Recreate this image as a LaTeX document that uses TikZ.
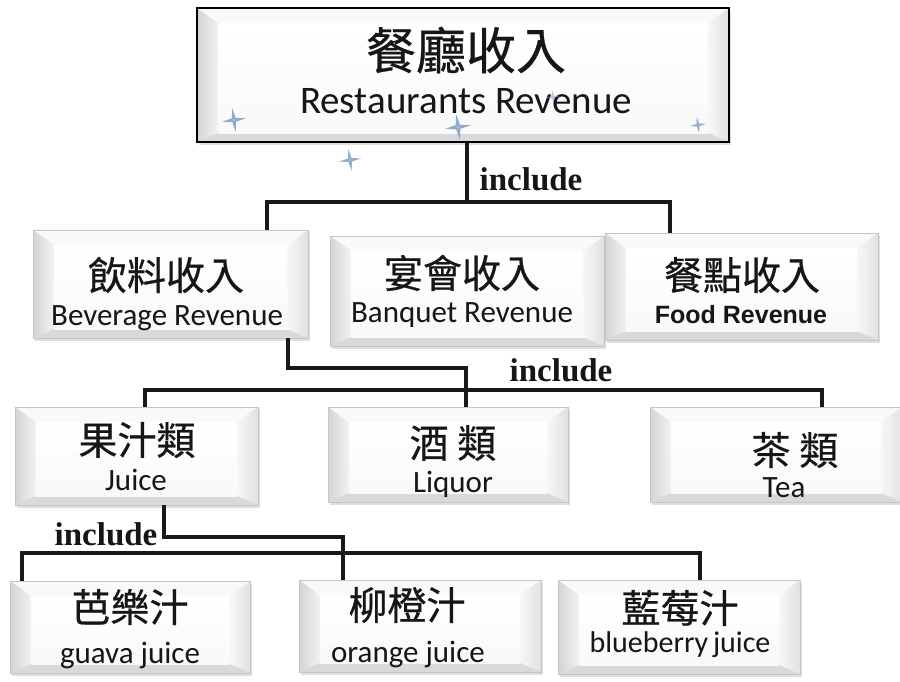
\documentclass[tikz,border=0pt]{standalone}
\usepackage{fontspec}
\newfontfamily\cjk[FakeBold=0.6]{Noto Sans CJK TC}
\newfontfamily\en{Carlito}
\newfontfamily\arialf{Liberation Sans}
\newfontfamily\timesf{Liberation Serif}
\usetikzlibrary{shadows}
\definecolor{starblue}{RGB}{140,172,212}
\definecolor{ink}{RGB}{22,22,22}
\tikzset{
  bev/.style={rectangle, draw=gray!45, line width=0.5pt, fill=gray!10, inner sep=0pt,
    drop shadow={shadow xshift=1.5pt, shadow yshift=-2.5pt, opacity=0.35, fill=gray!70},
    path picture={
      \path (path picture bounding box.north west) coordinate (@nw)
            (path picture bounding box.north east) coordinate (@ne)
            (path picture bounding box.south east) coordinate (@se)
            (path picture bounding box.south west) coordinate (@sw);
      \path ([xshift=21pt,yshift=-15pt]@nw) coordinate (@inw)
            ([xshift=-21pt,yshift=-15pt]@ne) coordinate (@ine)
            ([xshift=-21pt,yshift=9pt]@se) coordinate (@ise)
            ([xshift=21pt,yshift=9pt]@sw) coordinate (@isw);
      \fill[gray!5] (@nw) -- (@ne) -- (@ine) -- (@inw) -- cycle;
      \shade[left color=gray!34, right color=gray!10] (@nw) -- (@inw) -- (@isw) -- (@sw) -- cycle;
      \shade[left color=gray!6, right color=gray!24] (@ne) -- (@se) -- (@ise) -- (@ine) -- cycle;
      \fill[gray!30] (@sw) -- (@se) -- (@ise) -- (@isw) -- cycle;
      \shade[top color=white, bottom color=gray!5] (@inw) rectangle (@ise);
    }},
  topbox/.style={bev, draw=black, line width=2.5pt},
  cjkA/.style={font=\cjk\fontsize{39}{39}\selectfont, inner sep=0pt, text=ink},
  cjkB/.style={font=\cjk\fontsize{50}{50}\selectfont, inner sep=0pt, text=ink},
  enA/.style={font=\en\fontsize{31}{31}\selectfont, inner sep=0pt, anchor=base, text=ink},
  enB/.style={font=\en\fontsize{39}{39}\selectfont, inner sep=0pt, anchor=base, text=ink},
  enBold/.style={font=\arialf\bfseries\fontsize{25}{25}\selectfont, inner sep=0pt, anchor=base, text=ink},
  inc/.style={font=\timesf\bfseries\fontsize{33}{33}\selectfont, inner sep=0pt, anchor=base, text=ink},
  conn/.style={line width=3.5pt, black!90},
  sparkle/.pic={\fill[starblue] (0,-1) -- (0.16,-0.16) -- (1,0) -- (0.16,0.16) -- (0,1) -- (-0.16,0.16) -- (-1,0) -- (-0.16,-0.16) -- cycle;
                \fill[gray!55] (0,0) circle (0.14);}
}
\begin{document}
\begin{tikzpicture}[x=1pt, y=-1pt]
\useasboundingbox[fill=white] (0,0) rectangle (900,681);

% ---------- boxes ----------
\node[topbox, minimum width=532pt, minimum height=134pt] (top) at (463,75) {};
\node[bev, minimum width=275pt, minimum height=108pt] (bev) at (170.5,284) {};
\node[bev, minimum width=274pt, minimum height=110pt] (banq) at (467,291) {};
\node[bev, minimum width=273pt, minimum height=107pt] (food) at (741.5,286.5) {};
\node[bev, minimum width=243pt, minimum height=98pt] (juice) at (136.5,456) {};
\node[bev, minimum width=240pt, minimum height=95pt] (liq) at (448,454.5) {};
\node[bev, minimum width=252pt, minimum height=95pt] (tea) at (776,454.5) {};
\node[bev, minimum width=240pt, minimum height=92pt] (guava) at (130.5,627) {};
\node[bev, minimum width=242pt, minimum height=92pt] (orange) at (420,626) {};
\node[bev, minimum width=242pt, minimum height=94pt] (blue) at (679,627) {};

% ---------- texts ----------
\node[cjkB] (tTopC) at (466,50) {餐廳收入};
\node[enB] (tTopE) at (466,113) {Restaurants Revenue};
\node[cjkA] (tBevC) at (166,275) {飲料收入};
\node[enA] (tBevE) at (167,325) {Beverage Revenue};
\node[cjkA] (tBanC) at (462,273) {宴會收入};
\node[enA] (tBanE) at (462,322) {Banquet Revenue};
\node[cjkA] (tFoodC) at (742,275) {餐點收入};
\node[enBold] (tFoodE) at (741,323) {Food Revenue};
\node[cjkA] (tJuiC) at (137,440) {果汁類};
\node[enA] (tJuiE) at (136,490) {Juice};
\node[cjkA] (tLiqC) at (453,443) {酒 類};
\node[enA] (tLiqE) at (453,492) {Liquor};
\node[cjkA] (tTeaC) at (795,450) {茶 類};
\node[enA] (tTeaE) at (784,497) {Tea};
\node[cjkA] (tGuaC) at (130,607) {芭樂汁};
\node[enA] (tGuaE) at (130,663) {guava juice};
\node[cjkA] (tOraC) at (407,605) {柳橙汁};
\node[enA] (tOraE) at (408,662) {orange juice};
\node[cjkA] (tBluC) at (680,608) {藍莓汁};
\node[enA, font=\en\fontsize{30}{30}\selectfont] (tBluE) at (680,652) {blueberry\hspace{-2pt} juice};

% ---------- include labels ----------
\node[inc] (inc1) at (531,190) {include};
\node[inc] (inc2) at (561,381) {include};
\node[inc] (inc3) at (106,545) {include};

% ---------- connectors ----------
\coordinate (j1) at (467,202);
\coordinate (h1L) at (267,202);
\coordinate (h1R) at (670,202);
\draw[conn] (top.south -| j1) -- (j1);
\draw[conn] (bev.north -| h1L) -- (h1L) -- (h1R) -- (food.north -| h1R);

\coordinate (c2a) at (288,368);
\coordinate (c2b) at (466,368);
\coordinate (h2L) at (145,390);
\coordinate (h2R) at (822,390);
\draw[conn] (bev.south -| c2a) -- (c2a) -- (c2b) -- (liq.north -| c2b);
\draw[conn] (juice.north -| h2L) -- (h2L) -- (h2R) -- (tea.north -| h2R);

\coordinate (c3a) at (164,537);
\coordinate (c3b) at (343,537);
\coordinate (h3L) at (22,553);
\coordinate (h3R) at (700,553);
\draw[conn] (juice.south -| c3a) -- (c3a) -- (c3b) -- (orange.north -| c3b);
\draw[conn] (guava.north -| h3L) -- (h3L) -- (h3R) -- (blue.north -| h3R);

% ---------- sparkles ----------
\pic[scale=12, rotate=8] at (234,120) {sparkle};
\pic[scale=11, rotate=8] at (350,160) {sparkle};
\pic[scale=13, rotate=8] at (458,127) {sparkle};
\pic[scale=8, rotate=8] at (698,125) {sparkle};
\pic[scale=7, rotate=8, opacity=0.6] at (553,97) {sparkle};
\end{tikzpicture}
\end{document}
